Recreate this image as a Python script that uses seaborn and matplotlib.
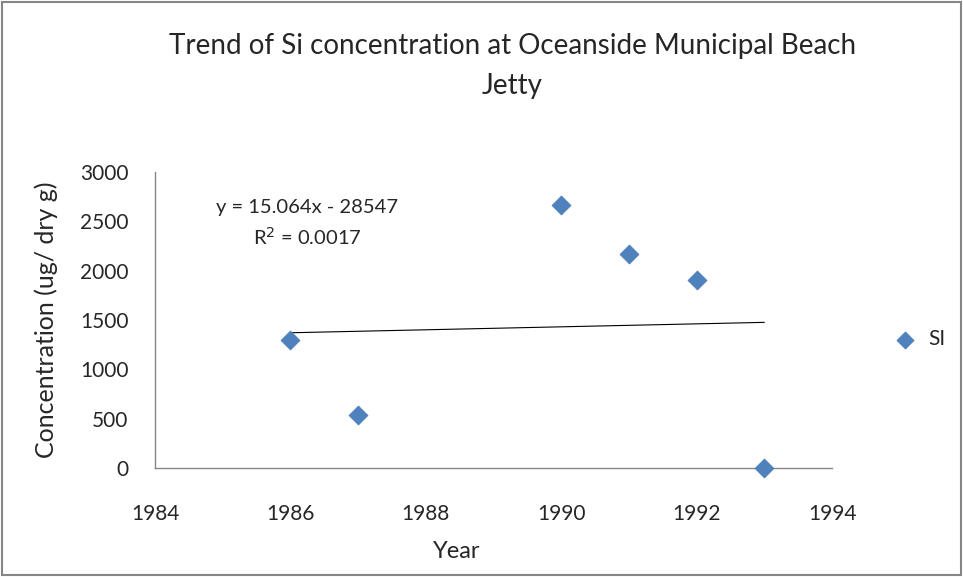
import numpy as np
import pandas as pd
import matplotlib
matplotlib.use("Agg")
import matplotlib.pyplot as plt
import seaborn as sns

years = [1986, 1987, 1990, 1991, 1992, 1993]
si_conc = [1300, 540, 2670, 2170, 1900, 0]
slope = 15.064
intercept = -28547
r2 = 0.0017

sns.set_style("white")
plt.rcParams['font.family'] = ['Lato', 'DejaVu Sans']

df = pd.DataFrame({"Year": years, "SI": si_conc})
trend_x = [min(years), max(years)]
trend = pd.DataFrame({"Year": trend_x,
                      "fit": [slope * x + intercept for x in trend_x]})

fig = plt.figure(figsize=(9.63, 5.77), dpi=100)
ax = fig.add_axes([0.161, 0.189, 0.703, 0.513])

sns.lineplot(data=trend, x="Year", y="fit", ax=ax, color="black",
             linewidth=0.8, legend=False)
sns.scatterplot(data=df, x="Year", y="SI", ax=ax, marker="D", s=90,
                color="#4F81BD", edgecolor="#4F81BD", label="SI", zorder=3,
                clip_on=False)

ax.set_xlim(1984, 1994)
ax.set_ylim(0, 3000)
ax.set_xticks(np.arange(1984, 1995, 2))
ax.set_yticks(np.arange(0, 3001, 500))
ax.tick_params(axis="both", labelsize=15, length=0)
ax.tick_params(axis="x", pad=26)
ax.tick_params(axis="y", pad=19)
for s in ["top", "right"]:
    ax.spines[s].set_visible(False)
for s in ["left", "bottom"]:
    ax.spines[s].set_color("#868686")
    ax.spines[s].set_linewidth(1)

ax.set_xlabel("Year", fontsize=17, labelpad=12)
ax.xaxis.label.set_x(0.446)
ax.set_ylabel("Concentration (ug/ dry g)", fontsize=18, labelpad=16)

fig.text(0.532, 0.942, "Trend of Si concentration at Oceanside Municipal Beach\nJetty",
         ha="center", va="top", fontsize=20, linespacing=1.65)

eq = f"y = {slope}x - {abs(intercept)}\nR$^2$ = {r2}"
ax.text(1986.25, 2480, eq, ha="center", va="center", fontsize=14.5, linespacing=1.55)

ax.legend(loc="center left", bbox_to_anchor=(1.05, 0.435), frameon=False,
          fontsize=15, handletextpad=0.1, markerscale=0.9)

fig.patches.append(plt.Rectangle((0.002, 0.003), 0.996, 0.994, transform=fig.transFigure,
                                 fill=False, edgecolor="#868686", linewidth=1.5))

fig.savefig("out.png", dpi=100)
